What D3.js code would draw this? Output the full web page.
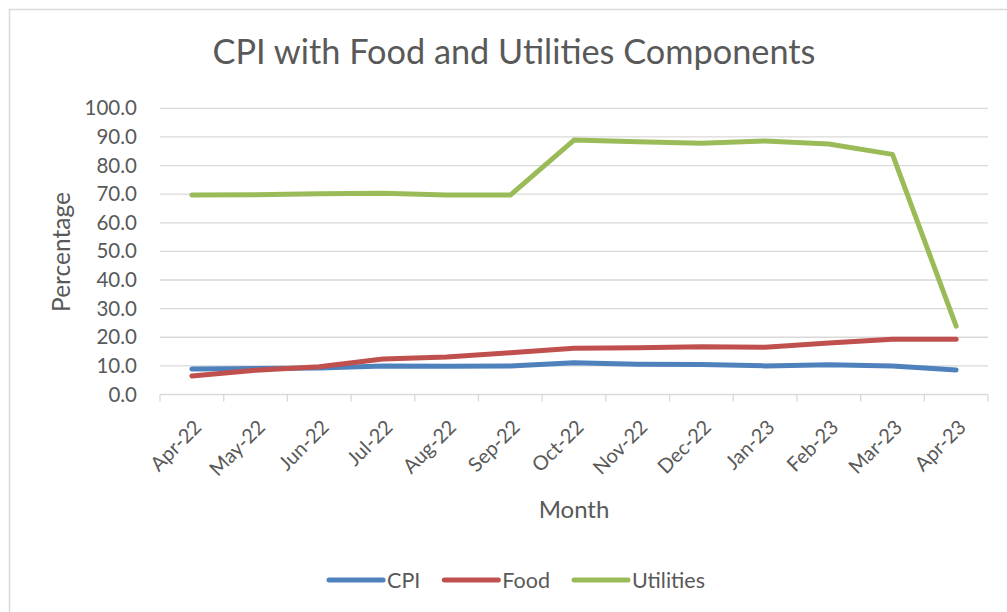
<!DOCTYPE html>
<html>
<head>
<meta charset="utf-8">
<script src="https://cdn.jsdelivr.net/npm/d3@7"></script>
<style>
  html, body { margin: 0; padding: 0; background: #fff; }
  text { font-family: Lato, "Open Sans", sans-serif; fill: #595959; }
</style>
</head>
<body>
<svg id="chart" width="1007" height="612"></svg>
<script>
const months = ["Apr-22","May-22","Jun-22","Jul-22","Aug-22","Sep-22","Oct-22","Nov-22","Dec-22","Jan-23","Feb-23","Mar-23","Apr-23"];
const cpi       = [8.9, 9.1, 9.3, 10.0, 9.9, 10.0, 11.1, 10.6, 10.5, 10.0, 10.4, 10.0, 8.6];
const food      = [6.5, 8.5, 9.7, 12.4, 13.1, 14.6, 16.2, 16.3, 16.7, 16.5, 18.0, 19.3, 19.3];
const utilities = [69.7, 69.8, 70.1, 70.3, 69.7, 69.7, 88.9, 88.3, 87.8, 88.6, 87.5, 83.9, 23.9];
const yTicks = [0, 10, 20, 30, 40, 50, 60, 70, 80, 90, 100];
const seriesNames = ["CPI", "Food", "Utilities"];
const seriesColors = ["#4F81BD", "#C0504D", "#9BBB59"];
const seriesData = [cpi, food, utilities];

const svg = d3.select("#chart");
const plot = { left: 160, right: 988, top: 108.3, bottom: 394.5 };

// outer frame
svg.append("rect").attr("x", 9.5).attr("y", 9.5).attr("width", 1010).attr("height", 620)
  .attr("fill", "#fff").attr("stroke", "#d9d9d9").attr("stroke-width", 1.5);

const x = d3.scaleBand().domain(months).range([plot.left, plot.right]);
const y = d3.scaleLinear().domain([0, 100]).range([plot.bottom, plot.top]);

// gridlines
svg.append("g").selectAll("line").data(yTicks.filter(d => d > 0)).join("line")
  .attr("x1", plot.left).attr("x2", plot.right)
  .attr("y1", d => y(d)).attr("y2", d => y(d))
  .attr("stroke", "#d9d9d9").attr("stroke-width", 1.3);

// y axis labels
const yAxis = d3.axisLeft(y).tickValues(yTicks).tickFormat(d3.format(".1f")).tickSize(0).tickPadding(23);
const yg = svg.append("g").attr("transform", `translate(${plot.left},0)`).call(yAxis);
yg.select(".domain").remove();
yg.selectAll("text").style("font-size", "20.5px").attr("fill", "#595959").style("font-family", "Lato, sans-serif");

// x axis
const xAxis = d3.axisBottom(x).tickSize(0).tickFormat("");
const xg = svg.append("g").attr("transform", `translate(0,${plot.bottom})`).call(xAxis);
xg.select(".domain").attr("stroke", "#d9d9d9").attr("stroke-width", 1.3).attr("d", `M${plot.left},0H${plot.right}`);
const boundaries = months.map(m => x(m)).concat([x(months[months.length-1]) + x.bandwidth()]);
xg.append("g").selectAll("line").data(boundaries).join("line")
  .attr("x1", d => d).attr("x2", d => d).attr("y1", 0).attr("y2", 7)
  .attr("stroke", "#d9d9d9").attr("stroke-width", 1.3);
xg.append("g").selectAll("text").data(months).join("text")
  .attr("transform", d => `translate(${x(d) + x.bandwidth()/2 + 6},${29}) rotate(-45)`)
  .attr("text-anchor", "end").attr("dy", "0.35em")
  .style("font-size", "20px").text(d => d);

// lines
const line = d3.line().x((d, i) => x(months[i]) + x.bandwidth()/2).y(d => y(d));
seriesData.forEach((data, k) => {
  svg.append("path").datum(data).attr("d", line)
    .attr("fill", "none").attr("stroke", seriesColors[k]).attr("stroke-width", 5)
    .attr("stroke-linecap", "round").attr("stroke-linejoin", "round");
});

// title
svg.append("text").attr("x", 514).attr("y", 64).attr("text-anchor", "middle")
  .style("font-size", "34.3px").text("CPI with Food and Utilities Components");

// axis titles
svg.append("text").attr("transform", "translate(70,252) rotate(-90)").attr("text-anchor", "middle")
  .style("font-size", "24.5px").text("Percentage");
svg.append("text").attr("x", (plot.left + plot.right)/2).attr("y", 518).attr("text-anchor", "middle")
  .style("font-size", "24px").text("Month");

// legend
const lg = svg.append("g");
const items = seriesNames.map((n, k) => {
  const g = lg.append("g");
  g.append("line").attr("x1", 0).attr("x2", 54).attr("y1", 0).attr("y2", 0)
    .attr("stroke", seriesColors[k]).attr("stroke-width", 5).attr("stroke-linecap", "round");
  const t = g.append("text").attr("x", 58).attr("y", 0).attr("dy", "0.35em").style("font-size", "21.5px").text(n);
  return { g, w: 58 + t.node().getComputedTextLength() };
});
const gap = 24;
const total = d3.sum(items, d => d.w) + gap * (items.length - 1);
let cx = 517 - total / 2;
items.forEach(it => { it.g.attr("transform", `translate(${cx},580)`); cx += it.w + gap; });
</script>
</body>
</html>
